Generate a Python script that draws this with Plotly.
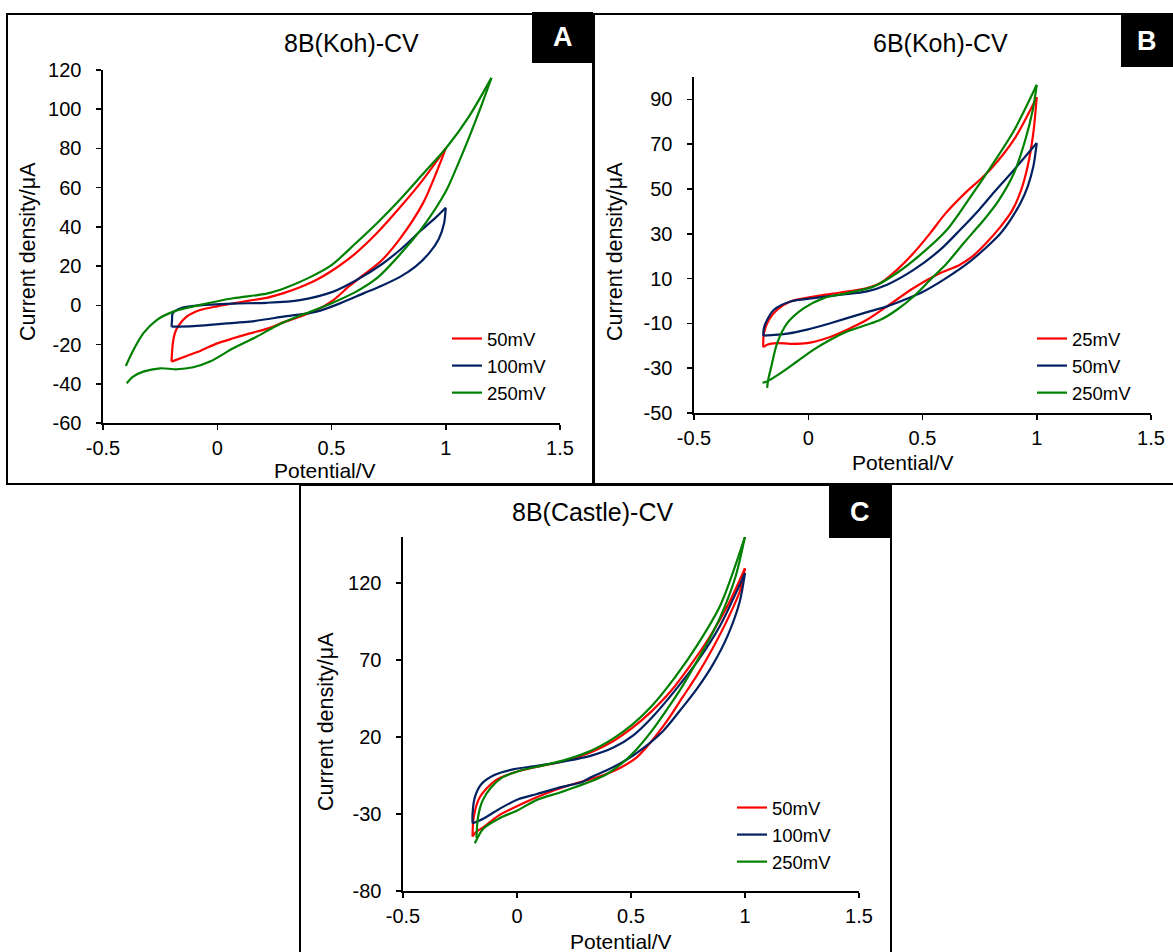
import plotly.graph_objects as go

W, H = 1173, 952
FONT = "Liberation Sans, Arial, sans-serif"

# ---------------- Data ----------------
# Panel A : 8B(Koh)-CV
a_50_x = [-0.2, -0.195, -0.185, -0.17, -0.134, -0.075, 0.0, 0.07, 0.14, 0.216, 0.29, 0.362, 0.435, 0.5, 0.6, 0.7, 0.8, 0.9, 1.0,
          0.96, 0.9, 0.8, 0.72, 0.64, 0.58, 0.508, 0.435, 0.36, 0.289, 0.216, 0.143, 0.07, 0.0, -0.07, -0.134, -0.2]
a_50_y = [-28.7, -20, -14, -10.5, -5.8, -2.4, -0.5, 1.0, 2.4, 3.8, 6.2, 9.2, 13, 17.5, 26, 37, 50, 64, 80,
          68, 52, 34, 23, 15.5, 10, 2.7, -2.4, -5.8, -8.7, -12, -14.3, -16.8, -19.4, -23, -25.8, -28.7]
a_100_x = [-0.2, -0.198, -0.195, -0.163, -0.075, 0.07, 0.216, 0.362, 0.508, 0.61, 0.723, 0.807, 0.89, 0.958, 1.0,
           0.993, 0.97, 0.93, 0.87, 0.8, 0.72, 0.64, 0.537, 0.435, 0.289, 0.143, 0.041, -0.032, -0.105, -0.2]
a_100_y = [-10.9, -7.5, -4.1, -1.6, 0, 0.9, 1.3, 2.7, 7, 12.9, 21.2, 29, 38, 45, 49.8,
           42, 34, 27, 20, 14.5, 10, 6.1, 1.0, -3.2, -5.8, -8.3, -9.2, -10, -10.6, -10.9]
a_250_x = [-0.4, -0.367, -0.324, -0.265, -0.192, -0.075, 0.07, 0.216, 0.3, 0.4, 0.5, 0.6, 0.7, 0.8, 0.9, 1.0, 1.1, 1.2,
           1.15, 1.1, 1.05, 1.0, 0.9, 0.8, 0.7, 0.6, 0.508, 0.39, 0.275, 0.172, 0.07, -0.032, -0.105, -0.177, -0.25, -0.324, -0.37, -0.396]
a_250_y = [-30.9, -22.8, -14.3, -7.5, -3.2, 0.2, 3.6, 6.0, 9.0, 14.0, 20.5, 31, 42, 54, 67, 80, 96, 116,
           100, 85, 71, 58, 40, 26, 14, 6.5, 1.5, -4, -9.5, -16, -21.9, -28.7, -31.6, -32.6, -32.1, -33.8, -36.5, -39.8]

# Panel B : 6B(Koh)-CV
b_25_x = [-0.197, -0.194, -0.172, -0.136, -0.078, 0.024, 0.141, 0.257, 0.316, 0.388, 0.461, 0.534, 0.6, 0.7, 0.75, 0.8, 0.9, 1.0,
          0.985, 0.96, 0.93, 0.89, 0.84, 0.78, 0.72, 0.66, 0.578, 0.461, 0.345, 0.257, 0.17, 0.083, -0.005, -0.078, -0.136, -0.18, -0.197]
b_25_y = [-20.6, -14.3, -8.4, -3.9, -0.2, 2.0, 3.8, 5.8, 8.0, 13.9, 21.4, 30.3, 39, 49.5, 54, 59, 72, 91,
          75, 60, 49, 40, 33, 26, 20, 16, 12.5, 5.8, -2.4, -8.4, -12.8, -16.5, -18.8, -19.1, -18.8, -19.5, -20.6]
b_50_x = [-0.197, -0.195, -0.187, -0.15, -0.078, 0.024, 0.141, 0.257, 0.345, 0.461, 0.578, 0.665, 0.75, 0.8, 0.9, 1.0,
          0.985, 0.96, 0.93, 0.89, 0.84, 0.78, 0.7, 0.6, 0.5, 0.432, 0.345, 0.243, 0.097, -0.005, -0.092, -0.197]
b_50_y = [-15.5, -12.5, -9.9, -3.9, -0.2, 1.3, 2.8, 4.3, 7.3, 13.9, 22.9, 31.8, 41, 47, 58.5, 70.5,
          60, 51, 44, 37, 30, 24, 17, 10, 4, 1.0, -2.4, -5.4, -9.9, -12.8, -14.6, -15.5]
b_250_x = [-0.18, -0.175, -0.165, -0.136, -0.092, -0.019, 0.068, 0.17, 0.287, 0.388, 0.49, 0.607, 0.7, 0.8, 0.9, 1.0,
           0.983, 0.95, 0.9, 0.836, 0.77, 0.731, 0.68, 0.607, 0.534, 0.461, 0.388, 0.316, 0.257, 0.17, 0.097, 0.024, -0.049, -0.121, -0.18, -0.2]
b_250_y = [-38.8, -35, -30.7, -18.8, -9.9, -3.2, 1.3, 3.5, 6.5, 12.5, 20.6, 31.8, 45, 60, 76, 96.5,
           85.5, 72, 57, 45.3, 36.4, 31.8, 25.8, 16.9, 9.5, 2.0, -3.9, -8.4, -10.6, -13.6, -17.3, -21.7, -27, -32.2, -35.9, -36.5]

# Panel C : 8B(Castle)-CV
c_50_x = [-0.195, -0.19, -0.164, -0.097, -0.013, 0.087, 0.222, 0.322, 0.423, 0.507, 0.591, 0.675, 0.758, 0.842, 0.926, 1.0,
          0.977, 0.926, 0.859, 0.792, 0.725, 0.658, 0.591, 0.524, 0.456, 0.389, 0.322, 0.222, 0.121, 0.02, -0.081, -0.148, -0.181, -0.195]
c_50_y = [-44.6, -32.1, -19.2, -8.4, -3.0, 0.7, 5.0, 10.0, 17.5, 26.1, 36.9, 49.9, 66.1, 84.4, 106, 129.7,
          114.6, 97.3, 77.9, 60.7, 45.6, 30.5, 17.5, 6.7, 0.3, -4.1, -7.3, -11.6, -17.0, -23.5, -31.0, -38.6, -41.8, -44.6]
c_100_x = [-0.195, -0.195, -0.185, -0.156, -0.097, -0.013, 0.087, 0.222, 0.322, 0.423, 0.507, 0.591, 0.691, 0.792, 0.893, 1.0,
           0.977, 0.926, 0.859, 0.792, 0.725, 0.641, 0.557, 0.473, 0.389, 0.322, 0.289, 0.188, 0.087, 0.003, -0.081, -0.148, -0.195]
c_100_y = [-36, -30, -19.2, -10.5, -4.5, -0.8, 1.3, 4.6, 7.8, 13.2, 20.8, 32.6, 49.9, 69.3, 93, 126.5,
           108.1, 86.6, 67.1, 52.0, 39.1, 24.0, 13.2, 4.6, -1.9, -6.2, -9, -12.7, -17, -20.5, -27, -33, -36]
c_250_x = [-0.178, -0.171, -0.151, -0.114, -0.064, 0.02, 0.121, 0.222, 0.322, 0.423, 0.507, 0.591, 0.691, 0.792, 0.893, 1.0,
           0.96, 0.909, 0.859, 0.792, 0.725, 0.658, 0.591, 0.524, 0.456, 0.389, 0.322, 0.255, 0.188, 0.087, 0.003, -0.081, -0.148, -0.185]
c_250_y = [-45.5, -32.1, -21.3, -12.7, -6.2, -1.5, 1.8, 5.7, 11.0, 19.2, 28.3, 40.2, 58.5, 80.1, 106, 150.2,
           125, 104, 88, 70, 53, 38, 24, 12, 2.4, -4.5, -8.9, -12.5, -16, -20.8, -27.5, -33, -39.5, -49]

panel_titles = ["8B(Koh)-CV", "6B(Koh)-CV", "8B(Castle)-CV"]
panel_letters = ["A", "B", "C"]
a_legend = ["50mV", "100mV", "250mV"]
b_legend = ["25mV", "50mV", "250mV"]
c_legend = ["50mV", "100mV", "250mV"]
x_ticks = [-0.5, 0, 0.5, 1, 1.5]
a_yticks = [-60, -40, -20, 0, 20, 40, 60, 80, 100, 120]
b_yticks = [-50, -30, -10, 10, 30, 50, 70, 90]
c_yticks = [-80, -30, 20, 70, 120]

COLORS = ["#FF0000", "#002060", "#008000"]

# ---------------- helpers ----------------
def px_x(p):
    return p / W

def px_y(p):
    return 1 - p / H

def fmt(v):
    return f"{v:g}"

fig = go.Figure()

panels = [
    dict(key="", xs=[a_50_x, a_100_x, a_250_x], ys=[a_50_y, a_100_y, a_250_y], names=a_legend, legend="legend",
         xdom=(103, 560), ydom=(70, 423), yr=(-60, 120), yt=a_yticks),
    dict(key="2", xs=[b_25_x, b_50_x, b_250_x], ys=[b_25_y, b_50_y, b_250_y], names=b_legend, legend="legend2",
         xdom=(694, 1151), ydom=(77, 413), yr=(-50, 100), yt=b_yticks),
    dict(key="3", xs=[c_50_x, c_100_x, c_250_x], ys=[c_50_y, c_100_y, c_250_y], names=c_legend, legend="legend3",
         xdom=(403, 859), ydom=(537, 891), yr=(-80, 150), yt=c_yticks),
]

for p in panels:
    xa = "x" + p["key"]
    ya = "y" + p["key"]
    for i, (xv, yv, nm) in enumerate(zip(p["xs"], p["ys"], p["names"])):
        turn = xv.index(max(xv))
        grp = f"{p['legend']}_{i}"
        for j, (sx, sy) in enumerate([(xv[:turn + 1], yv[:turn + 1]), (xv[turn:], yv[turn:])]):
            fig.add_trace(go.Scatter(
                x=sx, y=sy, mode="lines", name=nm, legendgroup=grp, showlegend=(j == 0),
                legend=p["legend"], xaxis=xa, yaxis=ya,
                line=dict(color=COLORS[i], width=2.2, shape="spline", smoothing=0.8),
                hoverinfo="skip"))

    axis_common = dict(showgrid=False, zeroline=False, showline=True, linecolor="black", linewidth=1.6,
                       ticks="outside", ticklen=5, tickwidth=1.5, tickcolor="black", automargin=False,
                       tickfont=dict(family=FONT, size=20, color="black"))
    fig.update_layout(**{
        "xaxis" + p["key"]: dict(axis_common, domain=[px_x(p["xdom"][0]), px_x(p["xdom"][1])],
                                 range=[-0.5, 1.5], tickvals=x_ticks, ticktext=[fmt(v) for v in x_ticks],
                                 anchor=ya, ticklabelstandoff=1),
        "yaxis" + p["key"]: dict(axis_common, domain=[px_y(p["ydom"][1]), px_y(p["ydom"][0])],
                                 range=list(p["yr"]), tickvals=p["yt"], ticktext=[fmt(v) for v in p["yt"]],
                                 anchor=xa, ticklabelstandoff=11),
    })

# legends
leg_pos = {"legend": (447, 320), "legend2": (1032, 320), "legend3": (732, 789)}
for k, (lx, ly) in leg_pos.items():
    fig.update_layout(**{k: dict(x=px_x(lx), y=px_y(ly), xanchor="left", yanchor="top",
                                 bgcolor="rgba(0,0,0,0)", font=dict(family=FONT, size=18.5, color="black"),
                                 tracegroupgap=0, itemwidth=30)})

annotations = []
# panel titles
for txt, (cx, cy) in zip(panel_titles, [(351, 43), (940, 43), (592, 512)]):
    annotations.append(dict(text=txt, x=px_x(cx), y=px_y(cy), xref="paper", yref="paper", showarrow=False,
                            xanchor="center", yanchor="middle", font=dict(family=FONT, size=25, color="black")))
# axis titles
for (cx, cy) in [(325, 470), (903, 462), (621, 941)]:
    annotations.append(dict(text="Potential/V", x=px_x(cx), y=px_y(cy), xref="paper", yref="paper", showarrow=False,
                            xanchor="center", yanchor="middle", font=dict(family=FONT, size=21, color="black")))
for (cx, cy) in [(28, 252), (615, 252), (326, 722)]:
    annotations.append(dict(text="Current density/μA", x=px_x(cx), y=px_y(cy), xref="paper", yref="paper",
                            showarrow=False, textangle=-90, xanchor="center", yanchor="middle",
                            font=dict(family=FONT, size=21.5, color="black")))

shapes = []
# panel frames
for (x0, y0, x1, y1) in [(7, 14, 593, 484), (594, 14, 1176, 484), (300, 485, 891, 960)]:
    shapes.append(dict(type="rect", xref="paper", yref="paper", x0=px_x(x0), x1=px_x(x1), y0=px_y(y1), y1=px_y(y0),
                       line=dict(color="black", width=2), fillcolor="rgba(0,0,0,0)", layer="below"))
# letter boxes
for letter, (x0, y0, x1, y1) in zip(panel_letters, [(532, 12, 593, 63), (1121, 15, 1173, 67), (829, 485, 891, 538)]):
    shapes.append(dict(type="rect", xref="paper", yref="paper", x0=px_x(x0), x1=px_x(x1), y0=px_y(y1), y1=px_y(y0),
                       line=dict(width=0), fillcolor="black"))
    annotations.append(dict(text=f"<b>{letter}</b>", x=px_x((x0 + x1) / 2), y=px_y((y0 + y1) / 2), xref="paper",
                            yref="paper", showarrow=False, xanchor="center", yanchor="middle",
                            font=dict(family=FONT, size=27, color="white")))

fig.update_layout(width=W, height=H, autosize=False,
                  margin=dict(l=0, r=0, t=0, b=0, pad=0, autoexpand=False),
                  paper_bgcolor="white", plot_bgcolor="rgba(0,0,0,0)",
                  annotations=annotations, shapes=shapes, showlegend=True,
                  font=dict(family=FONT, color="black"))

fig.write_html("out.html", config={"displayModeBar": False, "staticPlot": True},
               post_script="document.body.style.margin='0';document.body.style.padding='0';"
                           "document.body.style.overflow='hidden';")
